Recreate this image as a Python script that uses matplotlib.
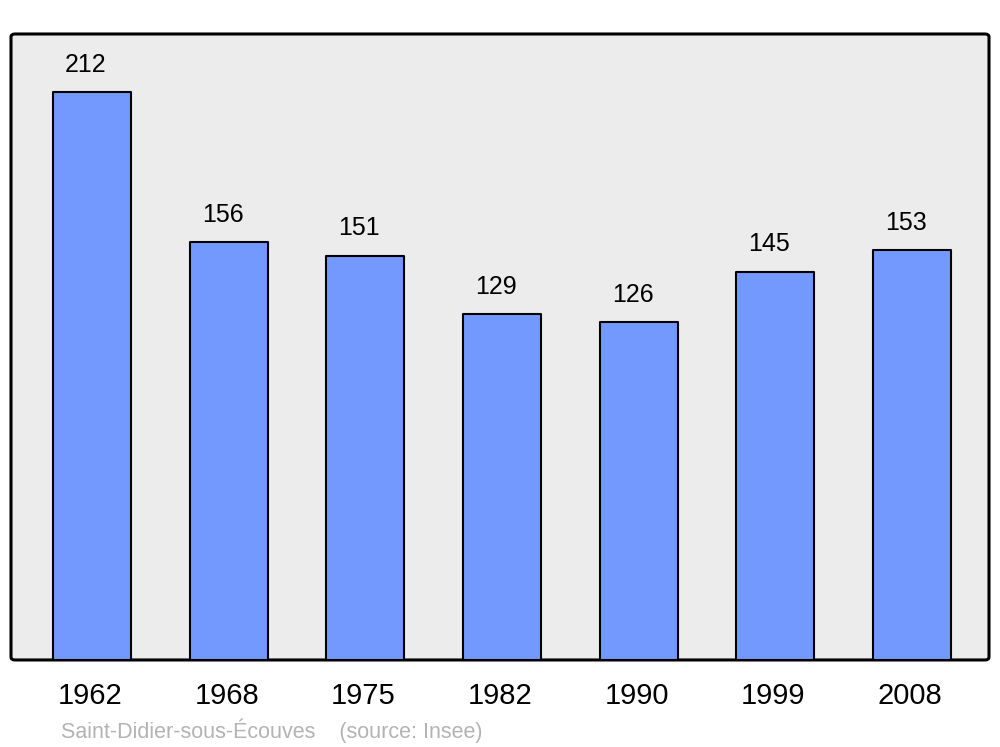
#!/usr/bin/env python3

import matplotlib.pyplot as plt
from matplotlib.patches import FancyBboxPatch

plt.rcParams['font.family'] = ['Liberation Sans', 'DejaVu Sans']

years = ['1962', '1968', '1975', '1982', '1990', '1999', '2008']
population = [212, 156, 151, 129, 126, 145, 153]
place = 'Saint-Didier-sous-Écouves'
source = '(source: Insee)'

BAR_COLOR = '#7399ff'
BG_COLOR = '#ececec'

fig = plt.figure(figsize=(10, 7.47), dpi=100)
ax = fig.add_axes([0.011, 0.1165, 0.978, 0.838])
ax.patch.set_visible(False)
for sp in ax.spines.values():
  sp.set_visible(False)

# rounded frame behind the bars
frame = FancyBboxPatch((0, 0), 1, 1, boxstyle='round,pad=0,rounding_size=0.004',
                       transform=ax.transAxes, facecolor=BG_COLOR, edgecolor='black',
                       linewidth=2.2, zorder=0, clip_on=False, mutation_aspect=1.17)
ax.add_patch(frame)

xs = list(range(len(years)))
bars = ax.bar(xs, population, width=0.57, color=BAR_COLOR, edgecolor='black',
              linewidth=1.5, zorder=2)
for b in bars:
  b.set_joinstyle('round')

for x, v in zip(xs, population):
  ax.text(x - 0.045, v + 10.3, str(v), ha='center', va='center', fontsize=18, zorder=3)

ax.set_xlim(-0.593, 6.563)
ax.set_ylim(0, 233.7)
ax.set_yticks([])
ax.set_xticks([x - 0.015 for x in xs])
ax.set_xticklabels(years, fontsize=21)
ax.tick_params(axis='x', length=0, pad=16)

fig.text(0.061, 0.0215, place + '    ' + source, color='#b3b3b3', fontsize=15.5,
         ha='left', va='center')

fig.savefig('out.png', dpi=100)
